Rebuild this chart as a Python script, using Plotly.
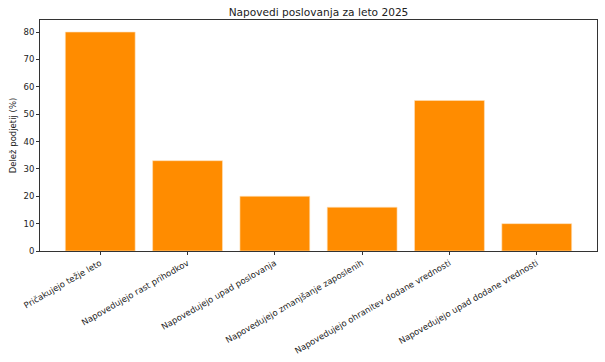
import plotly.graph_objects as go

categories = [
    "Pričakujejo težje leto",
    "Napovedujejo rast prihodkov",
    "Napovedujejo upad poslovanja",
    "Napovedujejo zmanjšanje zaposlenih",
    "Napovedujejo ohranitev dodane vrednosti",
    "Napovedujejo upad dodane vrednosti",
]
values = [80, 33, 20, 16, 55, 10]
y_ticks = [0, 10, 20, 30, 40, 50, 60, 70, 80]

fig = go.Figure(
    go.Bar(
        x=list(range(len(categories))),
        y=values,
        width=0.8,
        marker=dict(color="#FF8C00", line=dict(color="#FFE0B8", width=0.6)),
    )
)

font = "DejaVu Sans"
fig.update_layout(
    width=605,
    height=362,
    margin=dict(l=40, r=8, t=20, b=111),
    paper_bgcolor="white",
    plot_bgcolor="white",
    showlegend=False,
    title=dict(
        text="Napovedi poslovanja za leto 2025",
        x=0.5 * (40 + 597) / 605,
        xanchor="center",
        y=1 - 12 / 362,
        yanchor="middle",
        font=dict(family=font, size=10.6, color="#222"),
    ),
    font=dict(family=font, size=8.5, color="#333"),
)
fig.update_xaxes(
    range=[-0.69, 5.69],
    tickmode="array",
    tickvals=list(range(len(categories))),
    ticktext=categories,
    tickangle=-30,
    ticks="outside",
    ticklen=3,
    tickcolor="#333",
    showline=True,
    linecolor="#333",
    linewidth=1,
    mirror=True,
    showgrid=False,
    zeroline=False,
    automargin=False,
    tickfont=dict(family=font, size=8.5, color="#222"),
)
fig.update_yaxes(
    range=[0, 84.4],
    tickmode="array",
    tickvals=y_ticks,
    ticks="outside",
    ticklen=3,
    tickcolor="#333",
    showline=True,
    linecolor="#333",
    linewidth=1,
    mirror=True,
    showgrid=False,
    zeroline=False,
    automargin=False,
    tickfont=dict(family=font, size=8.5, color="#222"),
    title=dict(text="Delež podjetij (%)", font=dict(family=font, size=8.5, color="#222"), standoff=5),
)

fig.write_html("out.html")
